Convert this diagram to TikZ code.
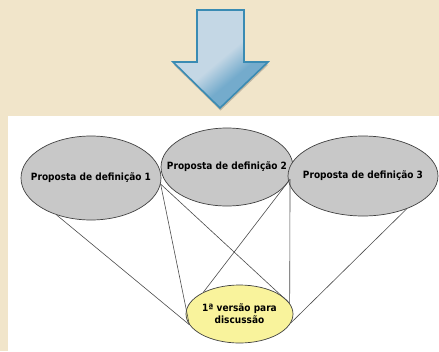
\documentclass[tikz,border=0pt]{standalone}
\usepackage{fontspec}
\setmainfont{DejaVu Sans Condensed}
\usetikzlibrary{shapes.geometric,shadows}
\definecolor{paper}{HTML}{F1E5CA}
\definecolor{propgray}{HTML}{C8C8C8}
\definecolor{versaoyellow}{HTML}{F9F39C}
\definecolor{arrowlight}{HTML}{C4D7E5}
\definecolor{arrowdark}{HTML}{74ABCC}
\definecolor{arrowline}{HTML}{3A8BB3}
\pgfdeclareverticalshading{arrowshade}{100bp}{color(0bp)=(arrowdark); color(38bp)=(arrowdark);
  color(50bp)=(arrowlight); color(100bp)=(arrowlight)}

\begin{document}
\begin{tikzpicture}[x=1pt,y=-1pt,
  propbox/.style={ellipse, draw=black!75, line width=0.7pt, fill=propgray, inner sep=0pt},
  versaobox/.style={propbox, fill=versaoyellow},
  proptext/.style={font=\bfseries\fontsize{10}{12}\selectfont, align=center, inner sep=0pt},
  link/.style={draw=black!70, line width=0.6pt},
  downarrow/.style={draw=arrowline, line width=1.6pt, line join=miter,
    shading=arrowshade, shading angle=40,
    drop shadow={shadow xshift=0.5pt, shadow yshift=-2.5pt, opacity=0.3, fill=black!70}}]
  % background
  \useasboundingbox (0,0) rectangle (439,351);
  \fill[paper] (0,0) rectangle (439,351);
  \fill[white] (8,116) rectangle (439,351);

  % arrow
  \path[downarrow] (197,10) -- (244,10) -- (244,62) -- (268,62) -- (220,108)
    -- (173,62) -- (197,62) -- cycle;

  % proposals
  \node[propbox, minimum width=140, minimum height=84,
    label={[proptext]center:Proposta de definição 1}] (def1) at (91,178) {};
  \node[propbox, minimum width=132, minimum height=78,
    label={[proptext]center:Proposta de definição 2}] (def2) at (227,167) {};
  \node[propbox, minimum width=150, minimum height=80,
    label={[proptext]center:Proposta de definição 3}] (def3) at (363,176) {};

  % first version
  \node[versaobox, minimum width=107, minimum height=58,
    label={[proptext]center:1ª versão para\\discussão}] (versao) at (239.5,314) {};

  % links
  \draw[link] (def1.227) -- (versao.192);
  \draw[link] (def1.-5) -- (versao.192);
  \draw[link] (def1.-5) -- (versao.12);
  \draw[link] (def2.-11) -- (versao.149);
  \draw[link] (def2.-11) -- (versao.12);
  \draw[link] (def3.-37) -- (versao.-10);
\end{tikzpicture}
\end{document}
